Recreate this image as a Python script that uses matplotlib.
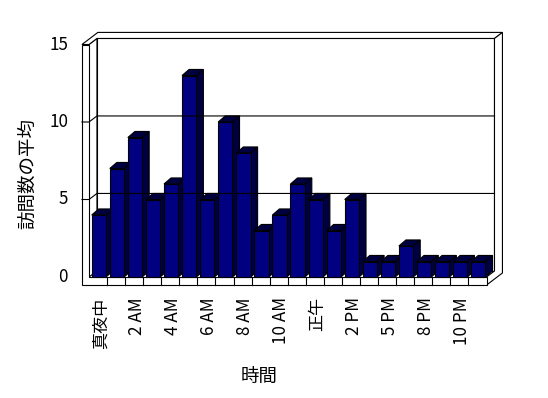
import matplotlib
matplotlib.use('Agg')
import matplotlib.pyplot as plt

plt.rcParams['font.family'] = ['Noto Sans CJK JP', 'DejaVu Sans']

# average visits per hour slot
hours = ['真夜中', '1 AM', '2 AM', '3 AM', '4 AM', '5 AM', '6 AM', '7 AM',
         '8 AM', '9 AM', '10 AM', '11 AM', '正午', '1 PM', '2 PM', '3 PM',
         '5 PM', '6 PM', '8 PM', '9 PM', '10 PM', '11 PM']
visits = [4, 7, 9, 5, 6, 13, 5, 10, 8, 3, 4, 6, 5, 3, 5, 1, 1, 2, 1, 1, 1, 1]
y_ticks = [0, 5, 10, 15]
grid_vals = [5, 10]

N = len(visits)
YMAX = 15
DX, DY = 0.44, 0.39      # depth step of the walls
WALL_T = 0.39            # left wall thickness
FLOOR_T = 0.52           # floor thickness
BAR_W, BAR_D = 0.79, 0.39

NAVY = '#000080'
DARK = '#000040'
LW = 0.8

fig = plt.figure(figsize=(5.48, 3.98), dpi=100)
ax = fig.add_axes([0, 0, 1, 1])
ax.set_xlim(-89 / 18.07, (548 - 89) / 18.07)
ax.set_ylim((277 - 398) / 15.5, 277 / 15.5)
ax.axis('off')


def poly(xs, ys, fc='white'):
    ax.fill(xs, ys, facecolor=fc, edgecolor='black', lw=LW, joinstyle='miter')


u0 = -WALL_T
# back wall
poly([DX, N + DX, N + DX, DX], [DY, DY, YMAX + DY, YMAX + DY])
# left wall inner face
poly([0, DX, DX, 0], [0, DY, YMAX + DY, YMAX])
# top of walls
poly([u0, 0, DX, N + DX, N + 2 * DX, u0 + 2 * DX],
     [YMAX, YMAX, YMAX + DY, YMAX + DY, YMAX + 2 * DY, YMAX + 2 * DY])
# right edge of back wall + floor
poly([N + DX, N + 2 * DX, N + 2 * DX, N, N, N + DX],
     [YMAX + DY, YMAX + 2 * DY, 2 * DY - FLOOR_T, -FLOOR_T, 0, DY])
# front of left wall and floor
poly([u0, 0, 0, N, N, u0], [YMAX, YMAX, 0, 0, -FLOOR_T, -FLOOR_T])

for k in range(1, N):
    ax.plot([k, k], [0, -FLOOR_T], color='black', lw=LW)

for g in grid_vals:
    ax.plot([u0, 0, DX, N + DX], [g, g, g + DY, g + DY], color='black', lw=LW)

# bars, left to right so each covers the side of the previous one
for i, h in enumerate(visits):
    x0 = i + 0.15
    x1 = x0 + BAR_W
    poly([x1, x1 + BAR_D, x1 + BAR_D, x1], [0, DY, h + DY, h], DARK)
    poly([x0, x1, x1 + BAR_D, x0 + BAR_D], [h, h, h + DY, h + DY], DARK)
    poly([x0, x1, x1, x0], [0, 0, h, h], NAVY)

fs = 12.3
for t in y_ticks:
    ax.text(-1.16, t, str(t), ha='right', va='center', fontsize=fs)

for i in range(0, N, 2):
    ax.text(i + 0.65, -1.3, hours[i], rotation=90, ha='center', va='top',
            fontsize=fs)

ax.text(-3.38, 6.65, '訪問数の平均', rotation=90, ha='center', va='center',
        fontsize=13.3)
ax.text(9.41, -6.45, '時間', ha='center', va='center', fontsize=13.3)

fig.savefig('out.png', dpi=100, facecolor='white')
